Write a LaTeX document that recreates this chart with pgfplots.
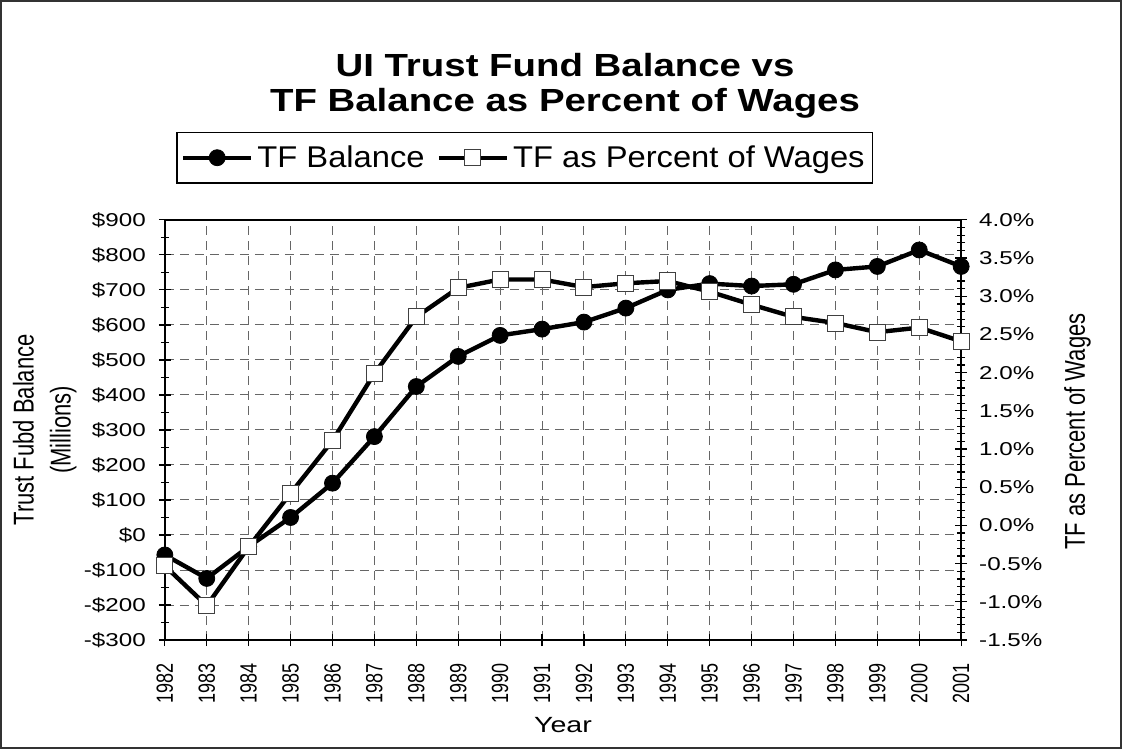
\documentclass[border=0pt]{standalone}
\usepackage{graphicx}
\usepackage{pgfplots}
\pgfplotsset{compat=1.18}
\usepackage{fontspec}
\setmainfont{Liberation Sans}
\newfontfamily\tickfont[FakeStretch=1.3]{Liberation Sans}
\newfontfamily\titlefont[FakeStretch=1.2]{Liberation Sans}
\newfontfamily\legfont[FakeStretch=1.09]{Liberation Sans}
% rotated texts are widened across their height
\newcommand\vs[1]{\scalebox{1}[1.3]{#1}}

\pgfplotstableread{
year balance
1982 -57
1983 -124
1984 -33
1985 50
1986 148
1987 281
1988 424
1989 510
1990 570
1991 588
1992 608
1993 648
1994 700
1995 718
1996 711
1997 716
1998 757
1999 767
2000 814
2001 767
}\balancetab

\pgfplotstableread{
year pct
1982 -0.53
1983 -1.05
1984 -0.28
1985 0.42
1986 1.11
1987 1.99
1988 2.73
1989 3.11
1990 3.22
1991 3.22
1992 3.12
1993 3.17
1994 3.20
1995 3.06
1996 2.89
1997 2.73
1998 2.65
1999 2.53
2000 2.59
2001 2.41
}\pcttab

\pgfplotsset{
  common/.style={
    scale only axis,
    width=398pt, height=210pt,
    at={(0,0)}, anchor=south west,
    xmin=1982, xmax=2001,
    axis line style={line width=0.75pt},
    tick align=center,
    major tick length=6pt,
    minor tick length=4pt,
    tick style={black, line width=0.6pt},
    yticklabel style={font=\tickfont\fontsize{9.3}{11}\selectfont},
  },
}

\begin{document}
\begin{tikzpicture}
\begin{axis}[
  common,
  ymin=-300, ymax=900,
  ytick={-300,-200,...,900},
  yticklabels={-\$300,-\$200,-\$100,\$0,\$100,\$200,\$300,\$400,\$500,\$600,\$700,\$800,\$900},
  minor y tick num=1,
  ytick pos=left,
  yticklabel shift=3pt,
  xtick={1982,1983,...,2001},
  xticklabels={\vs{1982},\vs{1983},\vs{1984},\vs{1985},\vs{1986},\vs{1987},\vs{1988},\vs{1989},\vs{1990},\vs{1991},\vs{1992},\vs{1993},\vs{1994},\vs{1995},\vs{1996},\vs{1997},\vs{1998},\vs{1999},\vs{2000},\vs{2001}},
  xtick pos=bottom,
  xticklabel style={rotate=90, anchor=east, font=\fontsize{9}{11}\selectfont},
  xticklabel shift=5pt,
  grid=major,
  major grid style={black!60, line width=0.5pt, dash pattern=on 4.5pt off 3pt},
  xlabel={Year},
  xlabel style={at={(axis description cs:0.5,-0.202)}, anchor=center, font=\tickfont\fontsize{11}{13}\selectfont},
  ylabel={\vs{Trust Fubd Balance}\\\vs{(Millions)}},
  ylabel style={at={(axis description cs:-0.151,0.5)}, anchor=center, align=center, font=\fontsize{11}{18.5}\selectfont},
]
\addplot[black, line width=2.2pt, mark=*, mark size=4pt, mark options={fill=black, line width=0.4pt}]
  table[x=year, y=balance] {\balancetab};
\end{axis}

\begin{axis}[
  common,
  axis x line=none,
  axis y line*=right,
  ymin=-1.5, ymax=4.0,
  ytick={-1.5,-1,...,4.0},
  yticklabels={-1.5\%,-1.0\%,-0.5\%,0.0\%,0.5\%,1.0\%,1.5\%,2.0\%,2.5\%,3.0\%,3.5\%,4.0\%},
  minor y tick num=4,
  yticklabel shift=2.5pt,
  ylabel={\vs{TF as Percent of Wages}},
  ylabel style={at={(axis description cs:1.146,0.496)}, anchor=center, font=\fontsize{11}{13}\selectfont},
  title={UI Trust Fund Balance vs\\TF Balance as Percent of Wages},
  title style={at={(axis description cs:0.5025,1.29)}, anchor=center, align=center, font=\titlefont\bfseries\fontsize{16}{17.5}\selectfont},
  legend style={at={(axis description cs:0.452,1.148)}, anchor=center, legend columns=-1,
    draw=black, line width=0.6pt, font=\legfont\fontsize{15}{17}\selectfont,
    inner xsep=2pt, inner ysep=4.5pt,
    /tikz/every even column/.append style={column sep=4pt}},
  legend image code/.code={\draw[#1, mark repeat=2, mark phase=2] plot coordinates {(0pt,0pt) (17pt,0pt) (34pt,0pt)};},
]
\addlegendimage{black, line width=2.2pt, mark=*, mark size=4pt, mark options={fill=black, line width=0.4pt}}
\addlegendentry{TF Balance}
\addplot[black, line width=2.2pt, mark=square*, mark size=4pt, mark options={fill=white, draw=black!75, line width=0.5pt}]
  table[x=year, y=pct] {\pcttab};
\addlegendentry{TF as Percent of Wages}
\end{axis}

\draw[black!80, line width=0.8pt] (-82pt,-54pt) rectangle (478pt,319.5pt);
\end{tikzpicture}
\end{document}
